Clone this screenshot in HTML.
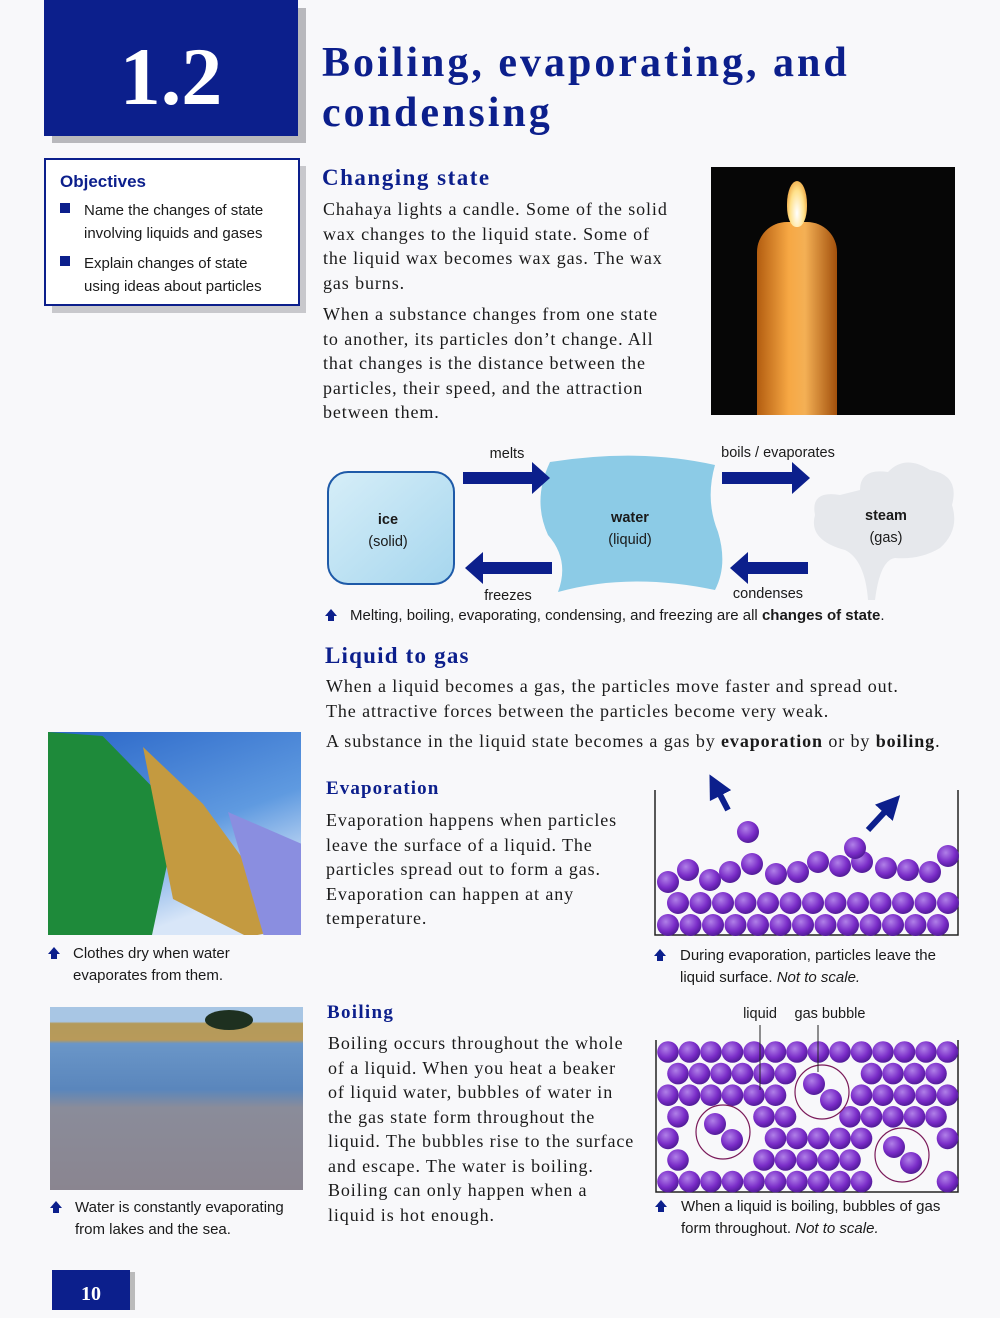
<!DOCTYPE html>
<html><head><meta charset="utf-8"><style>
*{margin:0;padding:0;box-sizing:border-box}
body{width:1000px;height:1310px;background:#f8f8fa;position:relative;overflow:hidden;font-family:"Liberation Sans",sans-serif;color:#1a1a1a}
.a{position:absolute;white-space:nowrap}
.s{font-family:"Liberation Serif",serif;font-size:18px;line-height:24.5px;letter-spacing:0.9px}
.h{font-family:"Liberation Serif",serif;font-weight:bold;color:#0c1f8c}
.c{font-size:15px;line-height:22px}
.ar{display:inline-block;position:absolute;left:0;top:4px;width:0;height:0;border-left:6px solid transparent;border-right:6px solid transparent;border-bottom:7px solid #0c1f8c}
.ar:after{content:"";position:absolute;left:-3px;top:6px;width:6px;height:6px;background:#0c1f8c}
</style></head><body>
<div class="a" style="left:52px;top:8px;width:254px;height:135px;background:#b8b8bc"></div>
<div class="a" style="left:44px;top:0;width:254px;height:136px;background:#0c1f8c"></div>
<div class="a" style="left:44px;top:32px;width:254px;text-align:center;color:#fff;font-family:'Liberation Serif',serif;font-weight:bold;font-size:82px;line-height:90px">1.2</div>
<div class="a h" style="left:322px;top:38px;font-size:42px;line-height:50px;letter-spacing:3px">Boiling, evaporating, and<br>condensing</div>

<div class="a" style="left:52px;top:166px;width:254px;height:147px;background:#c8c8cc"></div>
<div class="a" style="left:44px;top:158px;width:256px;height:148px;background:#fff;border:2px solid #0c1f8c"></div>
<div class="a" style="left:60px;top:172px;font-weight:bold;font-size:17px;color:#0c1f8c">Objectives</div>
<div class="a" style="left:60px;top:203px;width:10px;height:10px;background:#0c1f8c"></div>
<div class="a" style="left:84px;top:199px;font-size:15px;line-height:23px">Name the changes of state<br>involving liquids and gases</div>
<div class="a" style="left:60px;top:256px;width:10px;height:10px;background:#0c1f8c"></div>
<div class="a" style="left:84px;top:252px;font-size:15px;line-height:23px">Explain changes of state<br>using ideas about particles</div>

<div class="a h" style="left:322px;top:165px;font-size:23px;letter-spacing:1.5px">Changing state</div>
<div class="a s" style="left:323px;top:197px">Chahaya lights a candle. Some of the solid<br>wax changes to the liquid state. Some of<br>the liquid wax becomes wax gas. The wax<br>gas burns.</div>
<div class="a s" style="left:323px;top:302px">When a substance changes from one state<br>to another, its particles don’t change. All<br>that changes is the distance between the<br>particles, their speed, and the attraction<br>between them.</div>

<div class="a" style="left:711px;top:167px;width:244px;height:248px;background:#060606;overflow:hidden">
 <div style="position:absolute;left:46px;top:55px;width:80px;height:200px;border-radius:30px 30px 0 0;background:linear-gradient(90deg,#b35d10,#f7a844 40%,#f4b055 60%,#a2500c)"></div>
 <div style="position:absolute;left:76px;top:14px;width:20px;height:46px;border-radius:50% 50% 45% 45%;background:radial-gradient(ellipse at 50% 70%,#fff,#ffe18a 50%,#e07a10)"></div>
</div>

<svg class="a" style="left:320px;top:440px" width="645" height="170">
 <defs>
  <linearGradient id="ice" x1="0" y1="0" x2="1" y2="1"><stop offset="0" stop-color="#d6eef8"/><stop offset="1" stop-color="#a6d6ee"/></linearGradient>
 </defs>
 <rect x="8" y="32" width="126" height="112" rx="20" fill="url(#ice)" stroke="#1e5aa8" stroke-width="2"/>
 <path d="M230 22 Q320 8 395 25 Q385 60 398 92 Q408 125 395 150 Q310 132 238 152 Q250 120 228 95 Q212 60 230 22Z" fill="#8ccbe6"/>
 <path d="M540 50 Q540 28 568 32 Q585 14 610 30 Q640 35 632 65 Q640 90 620 108 Q600 120 575 118 Q560 120 555 160 L548 160 Q545 120 525 110 Q488 100 495 75 Q490 50 520 55Z" fill="#e6e8ec"/>
 <polygon points="143,32 212,32 212,22 230,38 212,54 212,44 143,44" fill="#0c1f8c"/>
 <polygon points="402,32 472,32 472,22 490,38 472,54 472,44 402,44" fill="#0c1f8c"/>
 <polygon points="232,122 163,122 163,112 145,128 163,144 163,134 232,134" fill="#0c1f8c"/>
 <polygon points="488,122 428,122 428,112 410,128 428,144 428,134 488,134" fill="#0c1f8c"/>
 <g font-family="Liberation Sans,sans-serif" font-size="14.5" fill="#1a1a1a" text-anchor="middle">
  <text x="187" y="18">melts</text><text x="458" y="17">boils / evaporates</text>
  <text x="188" y="160">freezes</text><text x="448" y="158">condenses</text>
  <text x="68" y="84" font-weight="bold">ice</text><text x="68" y="106">(solid)</text>
  <text x="310" y="82" font-weight="bold">water</text><text x="310" y="104">(liquid)</text>
  <text x="566" y="80" font-weight="bold">steam</text><text x="566" y="102">(gas)</text>
 </g>
</svg>
<div class="a c" style="left:325px;top:605px;padding-left:25px"><span class="ar"></span>Melting, boiling, evaporating, condensing, and freezing are all <b>changes of state</b>.</div>

<div class="a h" style="left:325px;top:643px;font-size:23px;letter-spacing:1.2px">Liquid to gas</div>
<div class="a s" style="left:326px;top:674px">When a liquid becomes a gas, the particles move faster and spread out.<br>The attractive forces between the particles become very weak.</div>
<div class="a s" style="left:326px;top:729px">A substance in the liquid state becomes a gas by <b>evaporation</b> or by <b>boiling</b>.</div>

<div class="a" style="left:48px;top:732px;width:253px;height:203px;background:linear-gradient(160deg,#2a66c8,#5f9ae0 50%,#d8e6f8 80%);overflow:hidden">
 <div style="position:absolute;left:0;top:0;width:130px;height:203px;background:#1e8a3a;clip-path:polygon(0 0,42% 2%,100% 40%,80% 100%,0 100%)"></div>
 <div style="position:absolute;left:95px;top:15px;width:150px;height:190px;background:#c49a40;clip-path:polygon(0 0,40% 30%,100% 95%,70% 100%,20% 80%)"></div>
 <div style="position:absolute;left:180px;top:80px;width:75px;height:130px;background:#8a8ee0;clip-path:polygon(0 0,100% 25%,100% 100%,50% 100%)"></div>
</div>
<div class="a c" style="left:48px;top:943px;padding-left:25px"><span class="ar"></span>Clothes dry when water<br>evaporates from them.</div>

<div class="a h" style="left:326px;top:778px;font-size:19px;letter-spacing:1.1px">Evaporation</div>
<div class="a s" style="left:326px;top:808px">Evaporation happens when particles<br>leave the surface of a liquid. The<br>particles spread out to form a gas.<br>Evaporation can happen at any<br>temperature.</div>

<svg class="a" style="left:640px;top:760px" width="340" height="480" id="b"></svg>
<div class="a c" style="left:654px;top:945px;padding-left:26px"><span class="ar"></span>During evaporation, particles leave the<br>liquid surface. <i>Not to scale.</i></div>

<div class="a" style="left:50px;top:1007px;width:253px;height:183px;background:linear-gradient(180deg,#a8c6e4 0,#a8c6e4 8%,#b49a5a 9%,#b89a5a 18%,#6a96c8 20%,#5a86bc 45%,#8a8c9a 55%,#8a8590 100%)">
 <div style="position:absolute;left:155px;top:3px;width:48px;height:20px;border-radius:50%;background:#1e3020"></div>
</div>
<div class="a c" style="left:50px;top:1197px;padding-left:25px"><span class="ar"></span>Water is constantly evaporating<br>from lakes and the sea.</div>

<div class="a h" style="left:327px;top:1002px;font-size:19px;letter-spacing:1.3px">Boiling</div>
<div class="a s" style="left:328px;top:1031px">Boiling occurs throughout the whole<br>of a liquid. When you heat a beaker<br>of liquid water, bubbles of water in<br>the gas state form throughout the<br>liquid. The bubbles rise to the surface<br>and escape. The water is boiling.<br>Boiling can only happen when a<br>liquid is hot enough.</div>
<div class="a c" style="left:655px;top:1196px;padding-left:26px"><span class="ar"></span>When a liquid is boiling, bubbles of gas<br>form throughout. <i>Not to scale.</i></div>

<div class="a" style="left:130px;top:1272px;width:5px;height:38px;background:#bbb"></div>
<div class="a" style="left:52px;top:1270px;width:78px;height:40px;background:#0c1f8c;color:#fff;font-family:'Liberation Serif',serif;font-weight:bold;font-size:20px;text-align:center;line-height:48px">10</div>

<script>
var s=document.getElementById('b'),h='<defs><radialGradient id="p" cx="0.4" cy="0.35" r="0.7"><stop offset="0" stop-color="#b080e8"/><stop offset="0.6" stop-color="#7a2cc8"/><stop offset="1" stop-color="#4a1890"/></radialGradient><marker id="m" markerWidth="4" markerHeight="4" refX="2" refY="2" orient="auto"><path d="M0,0 L4,2 L0,4Z" fill="#0c1f8c"/></marker></defs>';
function c(x,y,r){h+='<circle cx="'+x+'" cy="'+y+'" r="'+(r||11)+'" fill="url(#p)"/>';}
h+='<path d="M15 30 V175 H318 V30" fill="none" stroke="#222" stroke-width="1.5"/>';
var r1=[[28,120],[48,108],[70,118],[90,110],[112,102],[136,112],[158,110],[178,100],[200,104],[222,100],[246,106],[268,108],[290,110],[308,94]];
for(var i=0;i<13;i++){c(28+i*22.5,165);c(38+i*22.5,143);}
for(var i=0;i<14;i++)c(r1[i][0],r1[i][1]+2);
c(108,72);c(215,88);
h+='<line x1="88" y1="50" x2="75" y2="25" stroke="#0c1f8c" stroke-width="6" marker-end="url(#m)"/>';
h+='<line x1="228" y1="70" x2="252" y2="44" stroke="#0c1f8c" stroke-width="6" marker-end="url(#m)"/>';
h+='<path d="M16 280 V432 H318 V280" fill="none" stroke="#222" stroke-width="1.5"/>';
var bub=[[83,372,27],[182,332,27],[262,395,27]];
for(var r=0;r<7;r++)for(var k=0;k<14;k++){var x=28+k*21.5+(r%2?10:0),y=292+r*21.6;if(x>312)continue;var ok=true;for(var b of bub){if(Math.hypot(x-b[0],y-b[1])<b[2]+10)ok=false;}if(ok)c(x,y,10.8);}
for(var b of bub){h+='<circle cx="'+b[0]+'" cy="'+b[1]+'" r="'+b[2]+'" fill="none" stroke="#7a1a5a" stroke-width="1.2"/>';c(b[0]-8,b[1]-8);c(b[0]+9,b[1]+8);}
h+='<line x1="120" y1="265" x2="120" y2="330" stroke="#222"/><line x1="178" y1="265" x2="178" y2="312" stroke="#222"/>';
h+='<text x="120" y="258" font-family="Liberation Sans,sans-serif" font-size="14.5" text-anchor="middle" fill="#1a1a1a">liquid</text><text x="190" y="258" font-family="Liberation Sans,sans-serif" font-size="14.5" text-anchor="middle" fill="#1a1a1a">gas bubble</text>';
s.innerHTML=h;
</script>
</body></html>
